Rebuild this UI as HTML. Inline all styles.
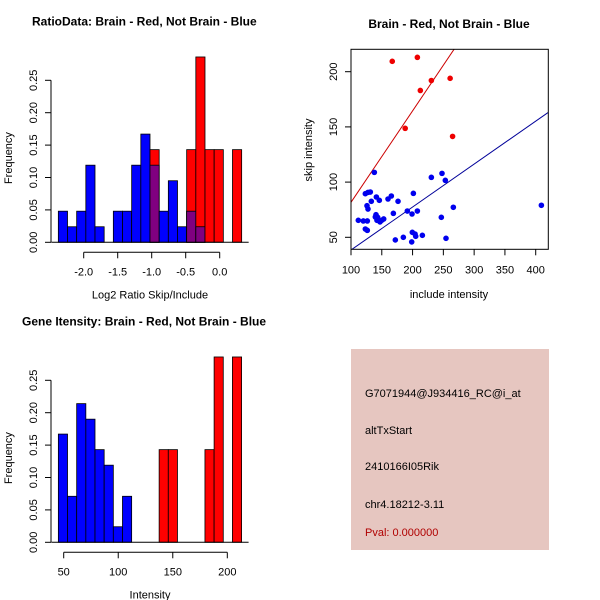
<!DOCTYPE html>
<html><head><meta charset="utf-8"><style>
body{margin:0;background:#fff}
svg{display:block;font-family:"Liberation Sans",sans-serif}
</style></head><body>
<svg id="c" width="600" height="600" xmlns="http://www.w3.org/2000/svg">
<rect width="600" height="600" fill="#fff"/>
<g id="p1"></g>
<g id="p2"></g>
<g id="p3"></g>
<g>
<rect x="351" y="349" width="198" height="201" fill="#e6c6c0"/>
<g font-size="11" fill="#000">
<text x="365" y="397">G7071944@J934416_RC@i_at</text>
<text x="365" y="434">altTxStart</text>
<text x="365" y="470">2410166I05Rik</text>
<text x="365" y="508">chr4.18212-3.11</text>
<text x="365" y="536" fill="#b00000">Pval: 0.000000</text>
</g></g>
</svg>
<script>
// ---- data: ratio histogram ----
const ratioBinStart = -2.373;
const ratioBinWidth = 0.1348;
const ratioBlue = [0.048,0.024,0.048,0.119,0.024,0,0.048,0.048,0.119,0.167,0.119,0.048,0.095,0.024,0.048,0.024,0,0,0,0];
const ratioRed  = [0,0,0,0,0,0,0,0,0,0,0.143,0,0,0,0.143,0.286,0.143,0.143,0,0.143];
const ratioXTicks = [-2.0,-1.5,-1.0,-0.5,0.0];
const ratioXLabels = ["-2.0","-1.5","-1.0","-0.5","0.0"];
const freqTicks = [0,0.05,0.10,0.15,0.20,0.25];
// ---- data: intensity histogram ----
const intBinStart = 45.1;
const intBinWidth = 8.4;
const intBlue = [0.167,0.071,0.214,0.190,0.143,0.119,0.024,0.071,0,0,0,0,0,0,0,0,0,0,0,0];
const intRed  = [0,0,0,0,0,0,0,0,0,0,0,0.143,0.143,0,0,0,0.143,0.286,0,0.286];
const intXTicks = [50,100,150,200];
const intXLabels = ["50","100","150","200"];
// ---- data: scatter ----
const redX = [167,207.8,230.5,212.6,188,261,265];
const redY = [209.4,213,192,183,148.7,194,141.4];
const blueX = [137.9,123.3,127.6,131.4,126.0,127.6,133.0,141.2,146.0,111.9,120.0,126.5,123.3,126.5,140.6,143.3,142.2,147.1,149.8,153.1,139.5,160.1,165.5,176.4,168.8,191.5,207.8,199.1,201.3,172.0,185.0,198.6,199.6,204.0,205.1,215.9,230.5,247.8,253.2,246.7,254.3,266.2,409.2];
const blueY = [108.8,89.5,90.7,91.0,78.6,75.6,82.6,86.5,83.5,65.4,64.8,64.8,57.5,56.3,70.5,68.1,65.4,63.9,65.4,66.6,68.4,84.7,87.4,82.6,71.7,73.8,73.8,71.1,89.8,47.6,50.0,45.8,54.5,53.0,50.9,51.8,104.3,107.9,101.6,68.1,49.1,77.2,79.0];
const redFit = [-1.1,0.828];   // intercept, slope
const blueFit = [-0.4,0.389];
const scXTicks = [100,150,200,250,300,350,400];
const scYTicks = [50,100,150,200];

const NS="http://www.w3.org/2000/svg";
function mk(parent,tag,attrs,name,txt){const e=document.createElementNS(NS,tag);for(const k in attrs)e.setAttribute(k,attrs[k]);


if(txt!==undefined)e.textContent=txt;parent.appendChild(e);return e;}

function hist(g,y0,binStart,binW,blue,red,xTicks,xLabels,xsc,title,titleX,xlabel){
  const ys=v=>y0-v*648;
  const xs=xsc;
  mk(g,'text',{x:titleX,y:y0-217,'font-size':12,'font-weight':'bold'},'panel-title',title);
  for(let i=0;i<blue.length;i++){
    const a=xs(binStart+i*binW),b=xs(binStart+(i+1)*binW);
    const bv=blue[i],rv=red[i];
    if(bv>0)mk(g,'rect',{x:a,y:ys(bv),width:b-a,height:y0-ys(bv),fill:'#0000ff',stroke:'#000','stroke-width':0.8},'blue-bar');
    if(rv>0)mk(g,'rect',{x:a,y:ys(rv),width:b-a,height:y0-ys(rv),fill:'#ff0000',stroke:'#000','stroke-width':0.8},'red-bar');
    const m=Math.min(bv,rv);
    if(m>0)mk(g,'rect',{x:a,y:ys(m),width:b-a,height:y0-ys(m),fill:'#800080',stroke:'#000','stroke-width':0.8},'overlap-bar');
  }
  const xl=xs(binStart),xr=xs(binStart+blue.length*binW);
  mk(g,'line',{x1:xl-7,x2:xr+7,y1:y0,y2:y0,stroke:'#000'},'baseline');
  mk(g,'line',{x1:51,x2:51,y1:ys(0),y2:ys(0.25),stroke:'#000'},'y-axis');
  freqTicks.forEach(t=>{mk(g,'line',{x1:45,x2:51,y1:ys(t),y2:ys(t),stroke:'#000'},'y-tick');
    mk(g,'text',{x:0,y:0,'font-size':11,'text-anchor':'middle',transform:`translate(37,${ys(t)}) rotate(-90)`},'y-tick-label',t.toFixed(2));});
  mk(g,'text',{x:0,y:0,'font-size':11,'text-anchor':'middle',transform:`translate(12,${ys(0.13)}) rotate(-90)`},'y-axis-title','Frequency');
  const ay=y0+10;
  mk(g,'line',{x1:xs(xTicks[0]),x2:xs(xTicks[xTicks.length-1]),y1:ay,y2:ay,stroke:'#000'},'x-axis');
  xTicks.forEach((t,i)=>{mk(g,'line',{x1:xs(t),x2:xs(t),y1:ay,y2:ay+6,stroke:'#000'},'x-tick');
    mk(g,'text',{x:xs(t),y:ay+23,'font-size':11,'text-anchor':'middle'},'x-tick-label',xLabels[i]);});
  mk(g,'text',{x:150,y:y0+56,'font-size':11,'text-anchor':'middle'},'x-axis-title',xlabel);
}
hist(document.getElementById('p1'),242.3,ratioBinStart,ratioBinWidth,ratioBlue,ratioRed,ratioXTicks,ratioXLabels,v=>219.7+v*68,'RatioData: Brain - Red, Not Brain - Blue',32,'Log2 Ratio Skip/Include');
hist(document.getElementById('p3'),542.3,intBinStart,intBinWidth,intBlue,intRed,intXTicks,intXLabels,v=>63.7+(v-50)*1.0907,'Gene Itensity: Brain - Red, Not Brain - Blue',22,'Intensity');

(function(){
  const g=document.getElementById('p2');
  const xs=v=>351+(v-100)*0.6157, ys=v=>71.7-(v-200)*1.104;
  const L=351,R=548.3,T=49.3,B=249.3;
  mk(g,'text',{x:449,y:28,'font-size':12,'font-weight':'bold','text-anchor':'middle'},'scatter-title','Brain - Red, Not Brain - Blue');
  const cp=mk(g,'clipPath',{id:'clip'},'clip');
  mk(cp,'rect',{x:L,y:T,width:R-L,height:B-T},'clip-rect');
  const inner=mk(g,'g',{'clip-path':'url(#clip)'},'plot-area');
  [[redFit,'#cc0000','red-fit-line'],[blueFit,'#000099','blue-fit-line']].forEach(([f,c,n])=>{
    mk(inner,'line',{x1:xs(100),y1:ys(f[0]+f[1]*100),x2:xs(420),y2:ys(f[0]+f[1]*420),stroke:c,'stroke-width':1},n);});
  redX.forEach((x,i)=>mk(inner,'circle',{cx:xs(x),cy:ys(redY[i]),r:2.8,fill:'#ee0000'},'red-point'));
  blueX.forEach((x,i)=>mk(inner,'circle',{cx:xs(x),cy:ys(blueY[i]),r:2.8,fill:'#0000ee'},'blue-point'));
  mk(g,'rect',{x:L,y:T,width:R-L,height:B-T,fill:'none',stroke:'#000'},'plot-frame');
  scXTicks.forEach(t=>{mk(g,'line',{x1:xs(t),x2:xs(t),y1:B,y2:B+6,stroke:'#000'},'x-tick');
    mk(g,'text',{x:xs(t),y:B+24,'font-size':11,'text-anchor':'middle'},'x-tick-label',String(t));});
  scYTicks.forEach(t=>{mk(g,'line',{x1:L-6,x2:L,y1:ys(t),y2:ys(t),stroke:'#000'},'y-tick');
    mk(g,'text',{x:0,y:0,'font-size':11,'text-anchor':'middle',transform:`translate(337,${ys(t)}) rotate(-90)`},'y-tick-label',String(t));});
  mk(g,'text',{x:449,y:298,'font-size':11,'text-anchor':'middle'},'x-axis-title','include intensity');
  mk(g,'text',{x:0,y:0,'font-size':11,'text-anchor':'middle',transform:'translate(312,150) rotate(-90)'},'y-axis-title','skip intensity');
})();
</script>
</body></html>
